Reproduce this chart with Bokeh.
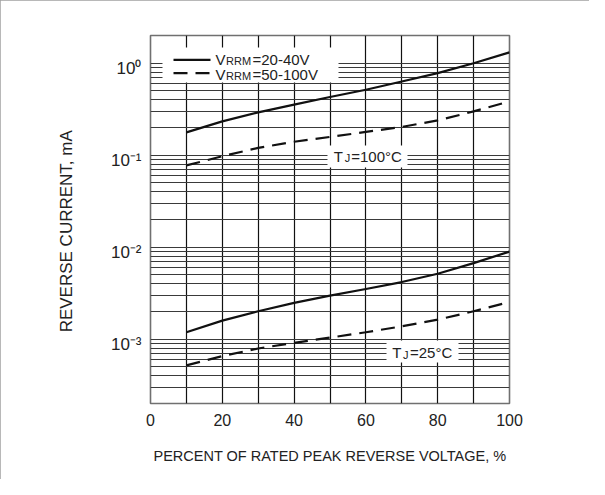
import math
from bokeh.plotting import figure
from bokeh.models import FixedTicker, Range1d, CustomJSTickFormatter
from bokeh.core.properties import value
from bokeh.embed import file_html
from bokeh.resources import INLINE

# ---- data ----
pct = [10, 20, 30, 40, 50, 60, 70, 80, 90, 100]
ir_100c_20_40v = [0.177, 0.233, 0.292, 0.354, 0.429, 0.514, 0.632, 0.779, 1.00, 1.31]
ir_100c_50_100v = [0.0774, 0.0975, 0.120, 0.140, 0.158, 0.179, 0.203, 0.239, 0.299, 0.384]
ir_25c_20_40v = [0.00119, 0.00159, 0.00201, 0.00248, 0.00297, 0.00351, 0.00418, 0.00514, 0.00671, 0.00896]
ir_25c_50_100v = [0.000519, 0.000655, 0.000793, 0.000914, 0.00104, 0.00119, 0.00138, 0.00163, 0.00201, 0.00254]
x_ticks = [0, 20, 40, 60, 80, 100]
x_grid = [0, 10, 20, 30, 40, 50, 60, 70, 80, 90, 100]
decade_exps = [0, -1, -2, -3]
y_lo, y_hi = 2e-4, 2.0
x_title = "PERCENT OF RATED PEAK REVERSE VOLTAGE, %"
y_title = "REVERSE CURRENT, mA"
legend_v = ["=20-40V", "=50-100V"]

y_grid = [m * 10.0 ** e for e in range(-4, 1) for m in range(1, 10) if y_lo - 1e-12 <= m * 10.0 ** e <= y_hi + 1e-12]

W, H = 589, 479
FL, FT, FR, FB = 150, 35, 509, 403  # frame in canvas px
DEC = (FB - FT) / 4.0

def dx(px):
    return (px - FL) * 100.0 / (FR - FL)

def dy(py):
    return y_hi * 10 ** (-(py - FT) / DEC)

FONT = "Liberation Sans, Arial, sans-serif"
TXT = "#222222"

p = figure(width=W, height=H, x_range=Range1d(0, 100), y_range=Range1d(y_lo, y_hi),
           y_axis_type="log", output_backend="svg", toolbar_location=None,
           min_border_left=FL, min_border_right=W - FR, min_border_top=FT, min_border_bottom=H - FB,
           styles={"outline": "3px solid #a0a0a0", "outline-offset": "-3px"})
p.background_fill_color = "white"
p.border_fill_color = "white"
p.outline_line_color = "#707070"
p.outline_line_width = 1.6

# x axis
p.xaxis.ticker = FixedTicker(ticks=x_ticks)
p.xaxis.major_label_text_font = FONT
p.xaxis.major_label_text_font_size = "16px"
p.xaxis.major_label_text_color = TXT
p.xaxis.major_tick_line_color = None
p.xaxis.minor_tick_line_color = None
p.xaxis.axis_line_color = None
p.xaxis.major_label_standoff = 4
p.xaxis.axis_label = x_title
p.xaxis.axis_label_text_font = FONT
p.xaxis.axis_label_text_font_size = "14.5px"
p.xaxis.axis_label_text_font_style = "normal"
p.xaxis.axis_label_text_color = TXT
p.xaxis.axis_label_standoff = 19

# y axis: ticks placed slightly below each decade line (as in the reference)
p.yaxis.ticker = FixedTicker(ticks=[10.0 ** (k - 5.5 / DEC) for k in decade_exps])
p.yaxis.formatter = CustomJSTickFormatter(code="""
    const e = Math.round(Math.log10(tick) + 0.06);
    const sup = {"0":"\u2070","1":"\u00b9","2":"\u00b2","3":"\u00b3","-":"\u207b"};
    return "10" + String(e).split("").map(c => sup[c]).join("");
""")
p.yaxis.major_label_text_font = FONT
p.yaxis.major_label_text_font_size = "17px"
p.yaxis.major_label_text_color = TXT
p.yaxis.major_tick_line_color = None
p.yaxis.minor_tick_line_color = None
p.yaxis.axis_line_color = None
p.yaxis.major_label_standoff = 3
p.yaxis.axis_label = y_title + "\u00a0" * 5
p.yaxis.axis_label_text_font = FONT
p.yaxis.axis_label_text_font_size = "17px"
p.yaxis.axis_label_text_font_style = "normal"
p.yaxis.axis_label_text_color = TXT
p.yaxis.axis_label_standoff = 32

# grids
p.xgrid.ticker = FixedTicker(ticks=x_grid)
p.xgrid.grid_line_color = "#111111"
p.xgrid.grid_line_width = 1.2
p.ygrid.ticker = FixedTicker(ticks=y_grid)
p.ygrid.grid_line_color = "#3a3a3a"
p.ygrid.grid_line_width = 1.0

# white backgrounds for legend and temperature labels
p.quad(left=[dx(162), dx(327), dx(386)], right=[dx(338), dx(407), dx(458)],
       top=[dy(47), dy(145), dy(340)], bottom=[dy(82), dy(167), dy(362)],
       fill_color="white", line_color=None)

LC = "#111111"
p.line(pct, ir_100c_20_40v, line_color=LC, line_width=2.2)
p.line(pct, ir_100c_50_100v, line_color=LC, line_width=2.2, line_dash="14 8")
p.line(pct, ir_25c_20_40v, line_color=LC, line_width=2.2)
p.line(pct, ir_25c_50_100v, line_color=LC, line_width=2.2, line_dash="14 8")

# legend samples
p.line([dx(173), dx(210)], [dy(59.3), dy(59.3)], line_color=LC, line_width=2.2)
p.line([dx(173), dx(210)], [dy(72.7), dy(72.7)], line_color=LC, line_width=2.2, line_dash="14 8")

def txt(x, base_py, text, size):
    yb = base_py + 0.212 * size
    p.text(x=[x], y=[dy(yb)], text=[text], text_font=value(FONT), text_font_size="%gpx" % size,
           text_color=TXT, text_align="left", text_baseline="bottom")

for base_py, tail in zip([64.5, 79.3], legend_v):
    txt(dx(215), base_py, "V", 15)
    txt(dx(225.5), base_py, "RRM", 11)
    txt(dx(252), base_py, tail, 15)

txt(dx(333.3), 161, "T", 15)
txt(dx(344.2), 161, "J", 11)
txt(dx(350.7), 161, "=100°C", 15)
txt(dx(391.7), 357.7, "T", 15)
txt(dx(402.6), 357.7, "J", 11)
txt(dx(409.5), 357.7, "=25°C", 15)

open("out.html", "w").write(file_html(p, INLINE))
